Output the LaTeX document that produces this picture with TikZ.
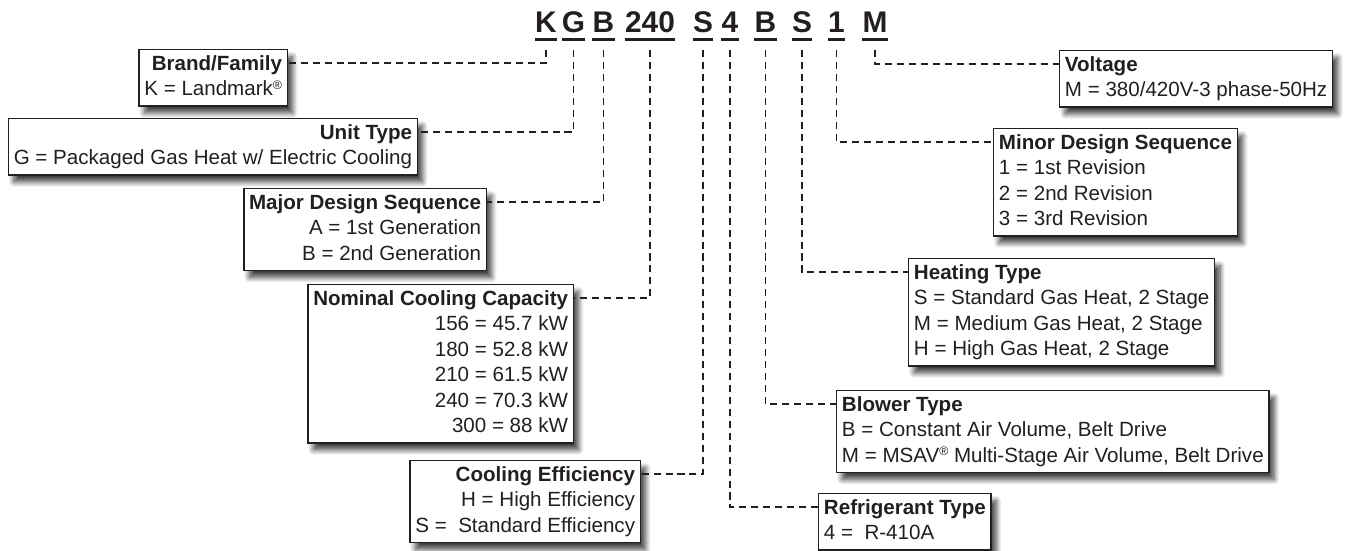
\documentclass[tikz,border=0pt]{standalone}
\usepackage{fontspec}
\setmainfont{Liberation Sans}
\usetikzlibrary{positioning, calc, shadows.blur}
\definecolor{inkgray}{HTML}{231F20}
\newcommand{\regmark}{\raisebox{3.6pt}{\fontsize{7}{7}\selectfont\textregistered}}

\begin{document}
\begin{tikzpicture}[
    codechar/.style={font=\fontsize{17}{20}\selectfont\bfseries, inner sep=0pt, text depth=0pt, anchor=base, text=inkgray},
    infobox/.style={draw=inkgray, line width=0.8pt, fill=white, inner xsep=3pt, inner ysep=1.5pt,
        font=\fontsize{11.7}{14.5}\selectfont, text=inkgray,
        blur shadow={shadow xshift=3pt, shadow yshift=-4pt, shadow blur radius=3pt, shadow blur steps=10, shadow opacity=75}},
    leftbox/.style={infobox, align=right, anchor=north east},
    rightbox/.style={infobox, align=left, anchor=north west},
    uline/.style={inkgray, line width=1.2pt},
    leader/.style={inkgray, line width=1.1pt, dash pattern=on 4pt off 2.8pt}
]
\useasboundingbox (0,0) rectangle (26.94,-11);

% model number
\node[codechar] (cK) at (10.92,-0.66) {K};
\node[codechar] (cG) at (11.47,-0.66) {G};
\node[codechar] (cB) at (12.07,-0.66) {B};
\node[codechar] (cCap) at (13.0,-0.66) {240};
\node[codechar] (cS) at (14.06,-0.66) {S};
\node[codechar] (cRef) at (14.6,-0.66) {4};
\node[codechar] (cBl) at (15.31,-0.66) {B};
\node[codechar] (cHt) at (16.04,-0.66) {S};
\node[codechar] (cMin) at (16.73,-0.66) {1};
\node[codechar] (cV) at (17.5,-0.66) {M};
\foreach \c in {cK,cG,cB,cCap,cS,cRef,cBl,cHt,cMin,cV}
    \draw[uline] ([yshift=-3.5pt]\c.south west) -- ([yshift=-3.5pt]\c.south east);

% left side
\node[leftbox] (brand) at (5.76,-0.98) {\strut\textbf{Brand/Family}\\K = Landmark\regmark\strut};
\node[leftbox] (unit) at (8.36,-2.36) {\strut\textbf{Unit Type}\\G = Packaged Gas Heat w/ Electric Cooling\strut};
\node[leftbox] (major) at (9.74,-3.76) {\strut\textbf{Major Design Sequence}\\A = 1st Generation\\B = 2nd Generation\strut};
\node[leftbox] (cap) at (11.48,-5.68) {\strut\textbf{Nominal Cooling Capacity}\\156 = 45.7 kW\\180 = 52.8 kW\\210 = 61.5 kW\\240 = 70.3 kW\\300 = 88 kW\strut};
\node[leftbox] (eff) at (12.82,-9.2) {\strut\textbf{Cooling Efficiency}\\H = High Efficiency\\S = \ Standard Efficiency\strut};

% right side
\node[rightbox] (volt) at (21.18,-1.0) {\strut\textbf{Voltage}\\M = 380/420V-3 phase-50Hz\strut};
\node[rightbox] (minor) at (19.86,-2.56) {\strut\textbf{Minor Design Sequence}\\1 = 1st Revision\\2 = 2nd Revision\\3 = 3rd Revision\strut};
\node[rightbox] (heat) at (18.16,-5.16) {\strut\textbf{Heating Type}\\S = Standard Gas Heat, 2 Stage\\M = Medium Gas Heat, 2 Stage\\H = High Gas Heat, 2 Stage\strut};
\node[rightbox] (blower) at (16.72,-7.8) {\strut\textbf{Blower Type}\\B = Constant Air Volume, Belt Drive\\M = MSAV\regmark{} Multi-Stage Air Volume, Belt Drive\strut};
\node[rightbox] (refr) at (16.36,-9.86) {\strut\textbf{Refrigerant Type}\\4 = \ R-410A\strut};

% leaders
\draw[leader] ([yshift=-0.34cm]cK.south) |- ([yshift=-0.28cm]brand.north east);
\draw[leader] ([yshift=-0.34cm]cG.south) |- ([yshift=-0.28cm]unit.north east);
\draw[leader] ([yshift=-0.34cm]cB.south) |- ([yshift=-0.28cm]major.north east);
\draw[leader] ([yshift=-0.34cm]cCap.south) |- ([yshift=-0.28cm]cap.north east);
\draw[leader] ([yshift=-0.34cm]cS.south) |- ([yshift=-0.28cm]eff.north east);
\draw[leader] ([yshift=-0.34cm]cRef.south) |- ([yshift=-0.28cm]refr.north west);
\draw[leader] ([yshift=-0.34cm]cBl.south) |- ([yshift=-0.28cm]blower.north west);
\draw[leader] ([yshift=-0.34cm]cHt.south) |- ([yshift=-0.28cm]heat.north west);
\draw[leader] ([yshift=-0.34cm]cMin.south) |- ([yshift=-0.28cm]minor.north west);
\draw[leader] ([yshift=-0.34cm]cV.south) |- ([yshift=-0.28cm]volt.north west);

\end{tikzpicture}
\end{document}
